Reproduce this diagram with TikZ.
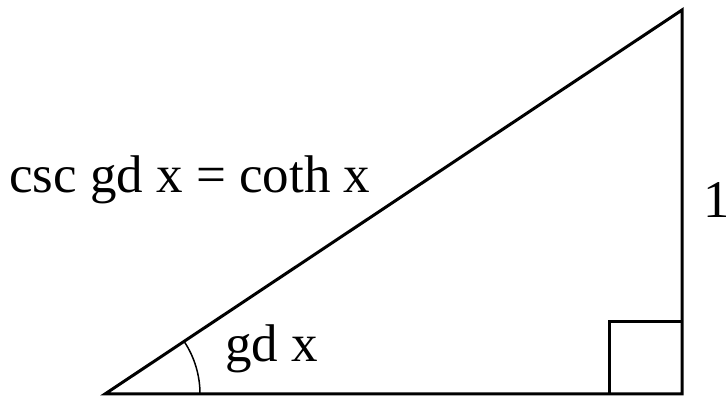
\documentclass[tikz,border=0pt]{standalone}
\usepackage{fontspec}
\setmainfont{Liberation Serif}
\begin{document}
\begin{tikzpicture}[x=1pt,y=1pt,
  edge/.style={line width=3pt, line join=miter},
  anglearc/.style={line width=1.5pt},
  lbl/.style={inner sep=0pt, anchor=base west, font=\fontsize{53}{60}\selectfont}]
\useasboundingbox (0,0) rectangle (726,396);
\coordinate (A) at (105,2);
\coordinate (B) at (682,2);
\coordinate (C) at (682,386);
\draw[edge] (A) -- (B) -- (C) -- cycle;
\coordinate (S1) at (609,2);
\coordinate (S2) at (609,74);
\coordinate (S3) at (682,74);
\draw[edge] (S1) -- (S2) -- (S3);
\draw[anglearc] ([shift={(0:95)}]A) arc[start angle=0, end angle=33.6, radius=95];
\node[lbl] (hyp) at (9,203) {csc gd x = coth x};
\node[lbl] (one) at (703,178) {1};
\node[lbl] (ang) at (225,34) {gd x};
\end{tikzpicture}
\end{document}
